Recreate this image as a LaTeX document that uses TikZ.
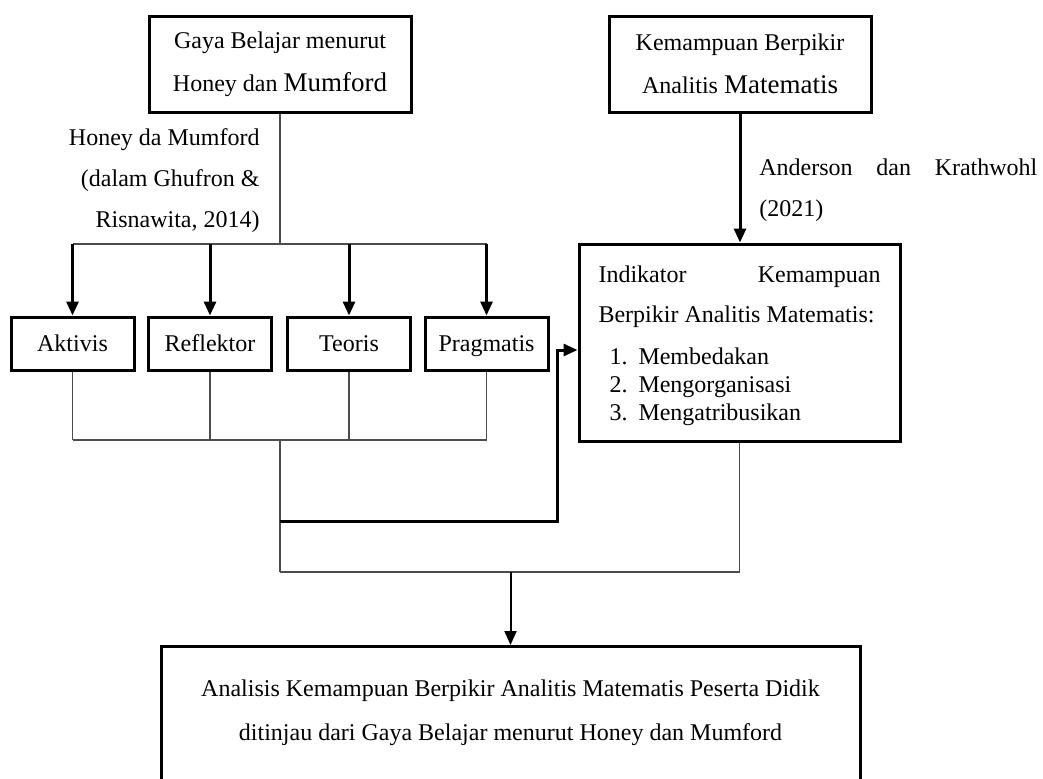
\documentclass[tikz,border=0pt]{standalone}
\usepackage{fontspec}
\setmainfont{Liberation Serif}
\usetikzlibrary{arrows.meta}

\begin{document}
\begin{tikzpicture}[x=0.5pt,y=-0.5pt]

	\tikzset{box/.style={draw,line width=1.5pt,inner sep=0pt,font=\fontsize{12}{21.5}\selectfont},
		stylebox/.style={box,minimum width=61.5pt,minimum height=26.5pt,text height=8pt,text depth=0pt},
		link/.style={draw=black!70,line width=0.6pt},
		arrowline/.style={draw,line width=1.5pt,-{Triangle[length=7pt,width=6pt]}}}
	\useasboundingbox (0,0) rectangle (1043,778);

	\node[box,align=center,minimum width=131pt,minimum height=48pt] (gaya) at (280,64) {Gaya Belajar menurut\\Honey dan {\fontsize{13.5}{21.5}\selectfont Mumford}};
	\node[box,align=center,minimum width=131pt,minimum height=48pt] (kemampuan) at (740,64) {Kemampuan Berpikir\\Analitis {\fontsize{13.5}{21.5}\selectfont Matematis}};

	\node[anchor=east,align=right,inner sep=0pt,font=\fontsize{12}{20.5}\selectfont] (honey) at (260,181) {Honey da Mumford\\(dalam Ghufron \&\\Risnawita, 2014)};
	\node[anchor=west,text width=139pt,align=justify,inner sep=0pt,font=\fontsize{12}{20.5}\selectfont] (anderson) at (759,190.5) {\tolerance=10000 Anderson dan Krathwohl\linebreak (2021)};

	\node[stylebox] (aktivis) at (72.5,343.5) {Aktivis};
	\node[stylebox] (reflektor) at (210,343.5) {Reflektor};
	\node[stylebox] (teoris) at (349,343.5) {Teoris};
	\node[stylebox] (pragmatis) at (486.5,343.5) {Pragmatis};

	\node[box,text width=141pt,align=justify,minimum width=160.5pt,minimum height=98.5pt] (indikator) at (739.5,342.5) {\tolerance=10000\hyphenpenalty=10000
		\baselineskip=20pt\rule{0pt}{12pt}Indikator Kemampuan\linebreak Berpikir Analitis Matematis:\par
		\vspace{7pt}\baselineskip=14pt
		\hspace*{5.5pt}1.\hspace{5.5pt}Membedakan\par
		\hspace*{5.5pt}2.\hspace{5.5pt}Mengorganisasi\par
		\hspace*{5.5pt}3.\hspace{5.5pt}Mengatribusikan\par};

	\node[box,align=center,anchor=north,minimum width=349.5pt,minimum height=70pt,text depth=6.6pt,font=\fontsize{12}{22}\selectfont] (analisis) at (510.5,645) {Analisis Kemampuan Berpikir Analitis Matematis Peserta Didik\\ditinjau dari Gaya Belajar menurut Honey dan Mumford};

	\coordinate (split) at (280,244);
	\coordinate (join) at (280,440);
	\coordinate (feed) at (280,521);
	\coordinate (merge) at (280,572);
	\coordinate (bend) at (557,350);

	% from the styles
	\draw[link] (gaya.south) -- (split);
	\draw[link] (aktivis |- split) -- (pragmatis |- split);
	\foreach \n in {aktivis,reflektor,teoris,pragmatis}{
		\draw[arrowline] (\n |- split) -- (\n.north);
		\draw[link] (\n.south) -- (\n |- join);
	}
	\draw[link] (aktivis |- join) -- (pragmatis |- join);
	\draw[link] (join) -- (merge);
	\draw[arrowline] (feed) -| (bend) -- (bend -| indikator.west);

	% indicators
	\draw[arrowline] (kemampuan.south) -- (kemampuan.south |- indikator.north);
	\draw[link] (indikator.south) -- (indikator.south |- merge);
	\draw[link] (merge) -- (indikator.south |- merge);
	\draw[arrowline,line width=1pt] (analisis.north |- merge) -- (analisis.north);

\end{tikzpicture}
\end{document}
